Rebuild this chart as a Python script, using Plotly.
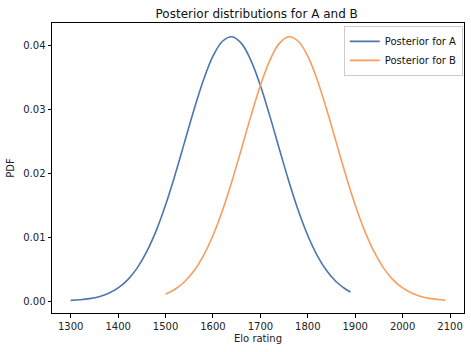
import plotly.graph_objects as go

elo_a = [1300, 1320, 1340, 1360, 1380, 1400, 1420, 1440, 1460, 1480, 1500, 1520, 1540, 1560,
         1580, 1600, 1620, 1640, 1660, 1680, 1700, 1720, 1740, 1760, 1780, 1800, 1820, 1840,
         1860, 1880, 1890]
pdf_a = [0.00010, 0.00019, 0.00037, 0.00068, 0.00120, 0.00204, 0.00331, 0.00514, 0.00767,
         0.01096, 0.01501, 0.01970, 0.02479, 0.02989, 0.03454, 0.03825, 0.04059, 0.04129,
         0.04025, 0.03760, 0.03367, 0.02889, 0.02376, 0.01873, 0.01414, 0.01024, 0.00710,
         0.00472, 0.00301, 0.00184, 0.00141]

elo_b = [1500, 1520, 1540, 1560, 1580, 1600, 1620, 1640, 1660, 1680, 1700, 1720, 1740, 1760,
         1780, 1800, 1820, 1840, 1860, 1880, 1900, 1920, 1940, 1960, 1980, 2000, 2020, 2040,
         2060, 2080, 2090]
pdf_b = [0.00108, 0.00184, 0.00301, 0.00472, 0.00710, 0.01024, 0.01414, 0.01873, 0.02376,
         0.02889, 0.03367, 0.03760, 0.04025, 0.04129, 0.04059, 0.03825, 0.03454, 0.02989,
         0.02479, 0.01970, 0.01501, 0.01096, 0.00767, 0.00514, 0.00331, 0.00204, 0.00120,
         0.00068, 0.00037, 0.00019, 0.00014]

x_ticks = [1300, 1400, 1500, 1600, 1700, 1800, 1900, 2000, 2100]
y_ticks = [0.00, 0.01, 0.02, 0.03, 0.04]

FONT = "DejaVu Sans"

fig = go.Figure()
fig.add_trace(go.Scatter(x=elo_a, y=pdf_a, mode="lines", name="Posterior for A",
                         line=dict(color="#4C75AC", width=1.6, shape="spline")))
fig.add_trace(go.Scatter(x=elo_b, y=pdf_b, mode="lines", name="Posterior for B",
                         line=dict(color="#F99D5E", width=1.6, shape="spline")))

axis_common = dict(showline=True, linecolor="black", linewidth=1, mirror=True,
                   showgrid=False, zeroline=False, ticks="outside", ticklen=3.5,
                   tickwidth=0.8, tickcolor="black",
                   tickfont=dict(family=FONT, size=10, color="#222222"))

fig.update_layout(
    width=471, height=352,
    margin=dict(l=52, r=7, t=23, b=39),
    paper_bgcolor="white", plot_bgcolor="white",
    font=dict(family=FONT, size=10, color="#222222"),
    title=dict(text="Posterior distributions for A and B", x=0.545, xanchor="center",
               y=0.962, yanchor="middle", font=dict(family=FONT, size=12, color="#111111")),
    xaxis=dict(range=[1260.5, 2129.5], tickvals=x_ticks,
               title=dict(text="Elo rating", font=dict(family=FONT, size=10), standoff=4),
               **axis_common),
    yaxis=dict(range=[-0.001875, 0.04344], tickvals=y_ticks, tickformat=".2f",
               title=dict(text="PDF", font=dict(family=FONT, size=10), standoff=6),
               **axis_common),
    legend=dict(x=0.997, y=0.99, xanchor="right", yanchor="top",
                bgcolor="rgba(255,255,255,0.8)", bordercolor="#cccccc", borderwidth=1,
                font=dict(family=FONT, size=10, color="#111111"),
                itemwidth=30, tracegroupgap=0),
    showlegend=True,
)

fig.write_html("out.html")
